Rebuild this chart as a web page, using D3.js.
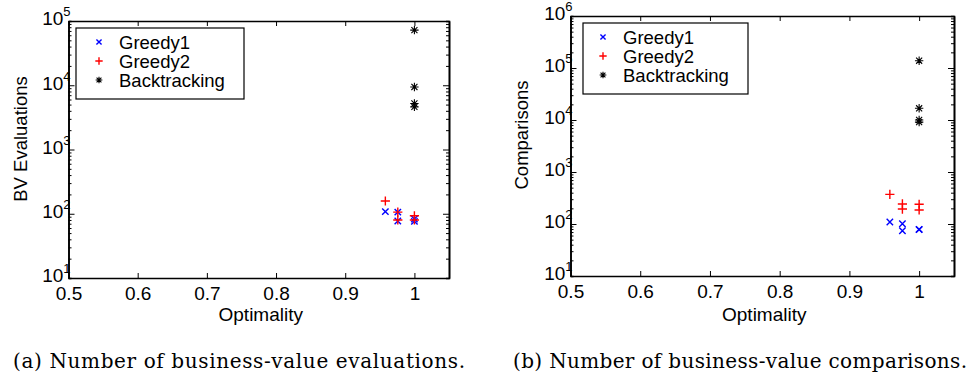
<!DOCTYPE html>
<html>
<head>
<meta charset="utf-8">
<script src="https://cdn.jsdelivr.net/npm/d3@7"></script>
<style>
body { margin: 0; background: #fff; }
svg { display: block; }
text { font-family: "Liberation Sans", Arial, sans-serif; fill: #000; }
.caption { font-family: "DejaVu Serif", serif; }
.axis path, .axis line { stroke: #000; }
.axis path { stroke-width: 1.6; }
.axis line { stroke-width: 1; }
</style>
</head>
<body>
<svg id="chart" width="972" height="379"></svg>
<script>
// values
const optimality = [0.958, 0.976, 0.976, 1.0, 1.0]
const backtrackOptimality = [1.0, 1.0, 1.0, 1.0]
const greedy1Evals = [108, 106, 77, 83, 76]
const greedy2Evals = [158, 106, 80, 93, 80]
const backtrackEvals = [72000, 9400, 5200, 4600]
const greedy1Comps = [109, 101, 74, 79, 78]
const greedy2Comps = [372, 243, 194, 240, 186]
const backtrackComps = [138000, 16800, 10000, 9100]
const xTicks = [0.5, 0.6, 0.7, 0.8, 0.9, 1]
const seriesNames = ['Greedy1', 'Greedy2', 'Backtracking']
const seriesColors = ['#0000ff', '#ff0000', '#000000']
const captions = ['(a) Number of business-value evaluations.', '(b) Number of business-value comparisons.']
const yLabels = ['BV Evaluations', 'Comparisons']

const svg = d3.select('#chart')

// marker shapes, like matlab x + *
const markers = {
  x: s => `M${-s},${-s}L${s},${s}M${-s},${s}L${s},${-s}`,
  plus: s => `M${-s},0L${s},0M0,${-s}L0,${s}`,
  star: s => markers.plus(s) + markers.x(s * 0.72)
}
const markerList = [['x', 3.2], ['plus', 4.6], ['star', 4.2]]

let drawPanel = function (p) {
  const x = d3.scaleLinear().domain([0.5, 1.05]).range([p.left, p.right])
  const y = d3.scaleLog().domain(p.yDomain).range([p.bottom, p.top])
  const g = svg.append('g')
  const majors = y.ticks().filter(d => Math.abs(Math.log10(d) - Math.round(Math.log10(d))) < 1e-9)
  const minors = y.ticks().filter(d => majors.indexOf(d) < 0)

  // x axes (bottom with labels, top only ticks)
  g.append('g').attr('class', 'axis')
    .attr('transform', `translate(0,${p.bottom})`)
    .call(d3.axisBottom(x).tickValues(xTicks).tickSizeInner(-5).tickSizeOuter(0).tickPadding(9).tickFormat(d => String(d)))
    .call(a => a.selectAll('text').style('font-size', '19px'))
  g.append('g').attr('class', 'axis')
    .attr('transform', `translate(0,${p.top})`)
    .call(d3.axisTop(x).tickValues(xTicks).tickSizeInner(-5).tickSizeOuter(0).tickFormat(''))

  // y axes, log with minor ticks on both sides
  let yl = g.append('g').attr('class', 'axis')
    .attr('transform', `translate(${p.left},0)`)
    .call(d3.axisLeft(y).tickValues(majors).tickSizeInner(-6).tickSizeOuter(0).tickPadding(-2).tickFormat(() => '10'))
  yl.selectAll('.tick text')
    .style('font-size', '19px')
    .attr('dy', '0.2em')
    .append('tspan')
    .attr('dy', -9)
    .style('font-size', '13px')
    .text(d => Math.round(Math.log10(d)))
  g.append('g').attr('class', 'axis')
    .attr('transform', `translate(${p.left},0)`)
    .call(d3.axisLeft(y).tickValues(minors).tickSize(-3).tickFormat(''))
  g.append('g').attr('class', 'axis')
    .attr('transform', `translate(${p.right},0)`)
    .call(d3.axisRight(y).tickValues(majors).tickSizeInner(-6).tickSizeOuter(0).tickFormat(''))
  g.append('g').attr('class', 'axis')
    .attr('transform', `translate(${p.right},0)`)
    .call(d3.axisRight(y).tickValues(minors).tickSize(-3).tickFormat(''))

  // axis titles
  g.append('text')
    .attr('x', (p.left + p.right) / 2 + 2)
    .attr('y', 321)
    .attr('text-anchor', 'middle')
    .style('font-size', '19px')
    .text('Optimality')
  g.append('text')
    .attr('transform', `translate(${p.yLabelX},${p.yLabelY}) rotate(-90)`)
    .attr('text-anchor', 'middle')
    .style('font-size', '18.5px')
    .text(p.yLabel)

  // points
  let series = [
    d3.zip(optimality, p.greedy1),
    d3.zip(optimality, p.greedy2),
    d3.zip(backtrackOptimality, p.backtrack)
  ]
  series.forEach((pts, i) => {
    g.append('g').selectAll('path')
      .data(pts)
      .enter()
      .append('path')
      .attr('transform', d => `translate(${x(d[0])},${y(d[1])})`)
      .attr('d', markers[markerList[i][0]](markerList[i][1]))
      .attr('fill', 'none')
      .attr('stroke', seriesColors[i])
      .attr('stroke-width', i === 2 ? 1.1 : 1.4)
  })

  // legend
  let lg = g.append('g').attr('transform', `translate(${p.legend[0]},${p.legend[1]})`)
  lg.append('rect')
    .attr('width', p.legend[2])
    .attr('height', 71)
    .attr('fill', '#fff')
    .attr('stroke', '#000')
    .attr('stroke-width', 1.2)
  seriesNames.forEach((name, i) => {
    let row = 14 + i * 19
    lg.append('path')
      .attr('transform', `translate(${p.legendMarker},${row})`)
      .attr('d', markers[markerList[i][0]](markerList[i][1] * 0.8))
      .attr('fill', 'none')
      .attr('stroke', seriesColors[i])
      .attr('stroke-width', i === 2 ? 1.1 : 1.4)
    lg.append('text')
      .attr('x', p.legendMarker + 20)
      .attr('y', row)
      .attr('dy', '0.36em')
      .style('font-size', '18.5px')
      .text(name)
  })

  // caption
  svg.append('text')
    .attr('class', 'caption')
    .attr('x', p.captionX)
    .attr('y', 368)
    .attr('textLength', p.captionW)
    .attr('lengthAdjust', 'spacing')
    .style('font-size', '20px')
    .text(p.caption)
}

drawPanel({
  left: 68.5, right: 449, top: 21, bottom: 278,
  yDomain: [10, 1e5],
  greedy1: greedy1Evals, greedy2: greedy2Evals, backtrack: backtrackEvals,
  yLabel: yLabels[0], yLabelX: 26.5, yLabelY: 139,
  legend: [76, 28, 168], legendMarker: 23,
  caption: captions[0], captionX: 13, captionW: 452
})
drawPanel({
  left: 570.5, right: 954, top: 16, bottom: 276,
  yDomain: [10, 1e6],
  greedy1: greedy1Comps, greedy2: greedy2Comps, backtrack: backtrackComps,
  yLabel: yLabels[1], yLabelX: 528, yLabelY: 135,
  legend: [583, 23, 165], legendMarker: 20,
  caption: captions[1], captionX: 513, captionW: 454
})
</script>
</body>
</html>
